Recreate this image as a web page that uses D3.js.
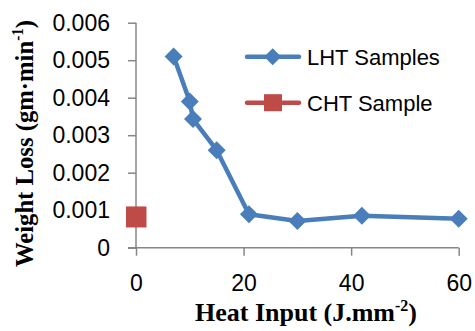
<!DOCTYPE html>
<html><head><meta charset="utf-8">
<script src="https://cdn.jsdelivr.net/npm/d3@7"></script>
<style>body{margin:0;background:#fff}svg{display:block}</style>
</head><body>
<script>
const lhtX = [7, 10, 10.6, 15, 21, 30, 42, 60];
const lhtY = [0.0051, 0.0039, 0.00343, 0.0026, 0.00089, 0.00071, 0.00085, 0.00077];
const chtX = [0];
const chtY = [0.00082];
const xTicks = [0, 20, 40, 60];
const yTicks = [0, 0.001, 0.002, 0.003, 0.004, 0.005, 0.006];
const seriesNames = ["LHT Samples", "CHT Sample"];

const W = 475, H = 331;
const svg = d3.select("body").append("svg").attr("width", W).attr("height", H);
const x = d3.scaleLinear().domain([0, 60]).range([136, 458.7]);
const y = d3.scaleLinear().domain([0, 0.006]).range([247.7, 22.7]);
const axisColor = "#868686";
const tickFont = "Liberation Sans, Arial, sans-serif";

const gy = svg.append("g").attr("transform", `translate(${x(0)},0)`)
  .call(d3.axisLeft(y).tickValues(yTicks).tickSize(8).tickPadding(18)
    .tickFormat(d => d === 0 ? "0" : d3.format(".3f")(d)));
const gx = svg.append("g").attr("transform", `translate(0,${y(0)})`)
  .call(d3.axisBottom(x).tickValues(xTicks).tickSize(8).tickPadding(19));
[gx, gy].forEach(g => {
  g.selectAll("path.domain").attr("stroke", axisColor).attr("stroke-width", 1.5);
  g.selectAll(".tick line").attr("stroke", axisColor).attr("stroke-width", 1.5);
  g.selectAll(".tick text").attr("fill", "#000").attr("font-family", tickFont).attr("font-size", 23);
});
gx.select("path.domain").attr("d", `M${x(0)-8},0H${x(60)}`);
gy.select("path.domain").attr("d", `M0,${y(0.006)}V${y(0)}`);

const blue = "#4a7ebb", red = "#be4b48";
const lht = lhtX.map((v, i) => [v, lhtY[i]]);
svg.append("path").datum(lht)
  .attr("d", d3.line().x(d => x(d[0])).y(d => y(d[1])))
  .attr("fill", "none").attr("stroke", blue).attr("stroke-width", 4.5).attr("stroke-linejoin", "round");
const diamond = s => `M0,${-s}L${s},0L0,${s}L${-s},0Z`;
svg.selectAll(".dm").data(lht).enter().append("path")
  .attr("transform", d => `translate(${x(d[0])},${y(d[1])})`)
  .attr("d", diamond(9)).attr("fill", blue);
chtX.forEach((v, i) => {
  svg.append("rect").attr("x", x(v) - 10).attr("y", y(chtY[i]) - 10.5)
    .attr("width", 20.5).attr("height", 21).attr("fill", red);
});

// legend
const lg = svg.append("g");
const legY = [56.7, 102.7];
seriesNames.forEach((name, i) => {
  const c = i === 0 ? blue : red;
  lg.append("line").attr("x1", 247).attr("x2", 299).attr("y1", legY[i]).attr("y2", legY[i])
    .attr("stroke", c).attr("stroke-width", 4.5).attr("stroke-linecap", "round");
  if (i === 0) lg.append("path").attr("transform", `translate(272.7,${legY[i]})`).attr("d", diamond(8.5)).attr("fill", c);
  else lg.append("rect").attr("x", 264).attr("y", legY[i] - 8.5).attr("width", 18).attr("height", 17).attr("fill", c);
  lg.append("text").attr("x", 307).attr("y", legY[i] + 8.5)
    .attr("font-family", tickFont).attr("font-size", 22).text(name);
});

// axis titles
const titleFont = "Liberation Serif, Times New Roman, serif";
const xt = svg.append("text").attr("x", 306).attr("y", 321).attr("text-anchor", "middle")
  .attr("font-family", titleFont).attr("font-weight", "bold").attr("font-size", 26);
xt.append("tspan").text("Heat Input (J.mm");
xt.append("tspan").attr("dy", -10).attr("font-size", 16).text("-2");
xt.append("tspan").attr("dy", 10).text(")");

const yt = svg.append("text").attr("transform", "translate(33,143.5) rotate(-90) scale(0.95,1)").attr("text-anchor", "middle")
  .attr("font-family", titleFont).attr("font-weight", "bold").attr("font-size", 26);
yt.append("tspan").text("Weight Loss (gm·min");
yt.append("tspan").attr("dy", -10).attr("font-size", 16).text("-1");
yt.append("tspan").attr("dy", 10).text(")");
</script>
</body></html>
